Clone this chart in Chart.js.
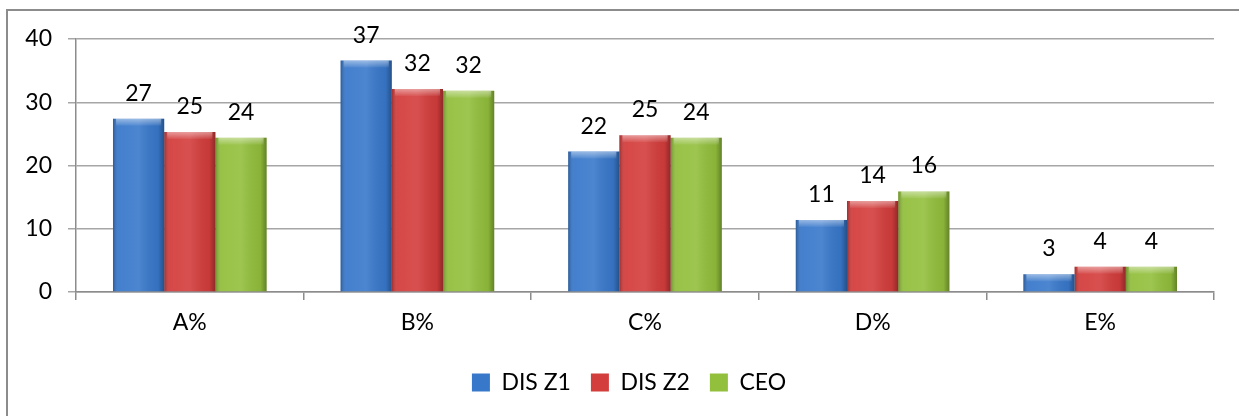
<!DOCTYPE html>
<html>
<head>
<meta charset="utf-8">
<script src="https://cdn.jsdelivr.net/npm/chart.js@4/dist/chart.umd.min.js"></script>
<style>
    html, body { margin: 0; padding: 0; background: #fff; overflow: hidden; }
    #wrap { position: relative; width: 1239px; height: 416px; }
    #frame {
        position: absolute; left: 6px; top: 9px; width: 1300px; height: 500px;
        border-left: 2px solid #8c8c8c; border-top: 2px solid #8c8c8c;
        pointer-events: none;
    }
</style>
</head>
<body>
<div id="wrap">
    <canvas id="barChart" width="1239" height="416"></canvas>
    <div id="frame"></div>
</div>
<script>
const categories = ["A%", "B%", "C%", "D%", "E%"];
const seriesNames = ["DIS Z1", "DIS Z2", "CEO"];
const disZ1 = [27.4, 36.6, 22.2, 11.4, 2.8];
const disZ2 = [25.3, 32.1, 24.8, 14.4, 4.0];
const ceo = [24.4, 31.8, 24.4, 15.9, 4.0];
const yTicks = [0, 10, 20, 30, 40];

const barColors = ["#3878cb", "#d33d3c", "#92bf3c"];
const fontName = "Lato, 'Open Sans', sans-serif";

// 3D-ish shading over each bar, like the office gradient fill
const shadePlugin = {
    id: "shade",
    afterDatasetsDraw(chart) {
        const ctx = chart.ctx;
        chart.data.datasets.forEach(function (ds, di) {
            const meta = chart.getDatasetMeta(di);
            meta.data.forEach(function (bar) {
                const left = bar.x - bar.width / 2;
                const top = Math.min(bar.y, bar.base);
                const h = Math.abs(bar.base - bar.y);
                const g = ctx.createLinearGradient(left, 0, left + bar.width, 0);
                g.addColorStop(0, "rgba(0,0,0,0.25)");
                g.addColorStop(0.12, "rgba(255,255,255,0.06)");
                g.addColorStop(0.5, "rgba(255,255,255,0.1)");
                g.addColorStop(0.88, "rgba(0,0,0,0.06)");
                g.addColorStop(1, "rgba(0,0,0,0.32)");
                ctx.save();
                ctx.fillStyle = g;
                ctx.fillRect(left, top, bar.width, h);
                const bev = Math.min(7, h);
                const v = ctx.createLinearGradient(0, top, 0, top + bev);
                v.addColorStop(0, "rgba(255,255,255,0.45)");
                v.addColorStop(1, "rgba(255,255,255,0.05)");
                ctx.fillStyle = v;
                ctx.fillRect(left + 3, top, bar.width - 6, bev);
                ctx.restore();
            });
        });
    }
};

// rounded value above every bar
const valueLabels = {
    id: "valueLabels",
    afterDatasetsDraw(chart) {
        const ctx = chart.ctx;
        ctx.save();
        ctx.font = "23px " + fontName;
        ctx.fillStyle = "#000";
        ctx.textAlign = "center";
        ctx.textBaseline = "alphabetic";
        chart.data.datasets.forEach(function (ds, di) {
            const meta = chart.getDatasetMeta(di);
            meta.data.forEach(function (bar, i) {
                ctx.fillText(String(Math.round(ds.data[i])), bar.x, bar.y - 18);
            });
        });
        ctx.restore();
    }
};

// the legend sits a bit right of the canvas centre in the original
const legendShift = {
    id: "legendShift",
    afterLayout(chart) {
        if (chart.legend) {
            chart.legend.left += 22;
            chart.legend.right += 22;
        }
    }
};

const ctx = document.getElementById("barChart");

new Chart(ctx, {
    type: "bar",
    data: {
        labels: categories,
        datasets: [
            { label: seriesNames[0], data: disZ1, backgroundColor: barColors[0] },
            { label: seriesNames[1], data: disZ2, backgroundColor: barColors[1] },
            { label: seriesNames[2], data: ceo, backgroundColor: barColors[2] },
        ],
    },
    options: {
        responsive: false,
        animation: false,
        devicePixelRatio: 1,
        categoryPercentage: 0.675,
        barPercentage: 1,
        layout: { padding: { left: 0, right: 25, top: 39, bottom: 12 } },
        plugins: {
            legend: {
                position: "bottom",
                labels: {
                    font: { family: fontName, size: 23 },
                    color: "#000",
                    boxWidth: 18,
                    boxHeight: 18,
                    padding: 20,
                },
            },
            tooltip: { enabled: false },
        },
        scales: {
            x: {
                grid: { drawOnChartArea: false, drawTicks: true, tickLength: 8, color: "#8c8c8c", lineWidth: 1.5 },
                border: { color: "#8c8c8c", width: 1.5 },
                ticks: { font: { family: fontName, size: 23 }, color: "#000", padding: 9 },
                afterFit(scale) { scale.height = 59; },
            },
            y: {
                min: 0,
                max: 40,
                grid: { color: "#a6a6a6", lineWidth: 1.5, tickLength: 8 },
                border: { color: "#8c8c8c", width: 1.5 },
                ticks: { font: { family: fontName, size: 23 }, color: "#000", padding: 16, stepSize: 10 },
                afterBuildTicks(scale) { scale.ticks = yTicks.map(function (v) { return { value: v }; }); },
                afterFit(scale) { scale.width = 76; },
            },
        },
    },
    plugins: [shadePlugin, valueLabels, legendShift],
});
</script>
</body>
</html>
